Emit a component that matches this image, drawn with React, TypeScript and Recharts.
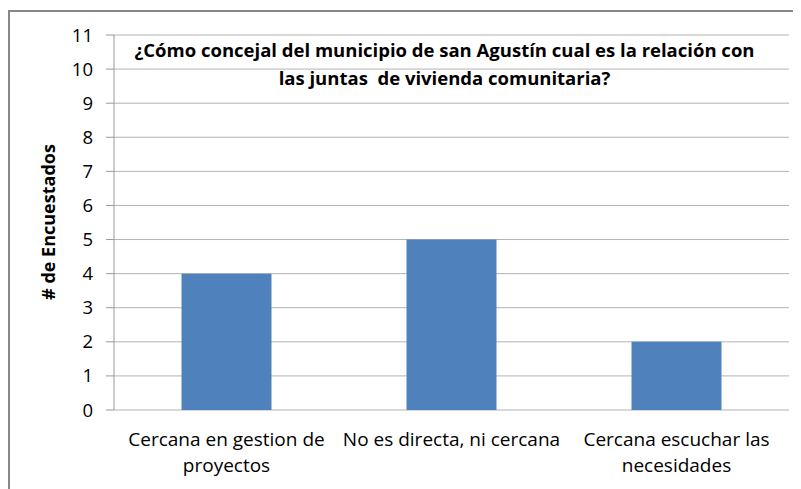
import { BarChart, Bar, XAxis, YAxis, CartesianGrid } from 'recharts'

const categorias = [
  'Cercana en gestion de proyectos',
  'No es directa, ni cercana',
  'Cercana escuchar las necesidades',
]
const encuestados = [4, 5, 2]
const yTicks = [0, 1, 2, 3, 4, 5, 6, 7, 8, 9, 10, 11]
const bordes = [0, 1, 2, 3]

const titulo1 = '¿Cómo concejal del municipio de san Agustín cual es la relación con'
const titulo2 = 'las juntas  de vivienda comunitaria?'

const data = categorias.map((c, i) => ({ name: c, valor: encuestados[i] }))

const FONT = '"Open Sans", "Noto Sans", sans-serif'

// simple word wrap, like Excel does for long category names
function wrap(text: string, max: number) {
  const lines: string[] = []
  let cur = ''
  for (const w of text.split(' ')) {
    const next = cur ? cur + ' ' + w : w
    if (next.length > max && cur) {
      lines.push(cur)
      cur = w
    } else {
      cur = next
    }
  }
  if (cur) lines.push(cur)
  return lines
}

function CategoryTick(props: any) {
  const { x, y, payload } = props
  const lines = wrap(String(payload.value), 25)
  return (
    <text x={x} y={y} textAnchor="middle" fontSize={19} fontFamily={FONT} fill="#000">
      {lines.map((l, i) => (
        <tspan key={i} x={x} dy={i === 0 ? 28 : 26}>
          {l}
        </tspan>
      ))}
    </text>
  )
}

export default function App() {
  return (
    <div style={{ position: 'relative', width: 793, height: 481, overflow: 'hidden', fontFamily: FONT }}>
      <div
        style={{
          position: 'absolute',
          left: 0,
          top: 2,
          width: 820,
          height: 520,
          border: '2px solid #878787',
          boxSizing: 'border-box',
        }}
      />
      <BarChart
        width={793}
        height={481}
        data={data}
        margin={{ top: 27, right: 12, left: 0, bottom: 0 }}
        barCategoryGap="30%"
        style={{ position: 'absolute', left: 0, top: 0 }}
      >
        <CartesianGrid vertical={false} stroke="#b3b3b3" />
        <XAxis
          xAxisId="bordes"
          type="number"
          domain={[0, 3]}
          ticks={bordes}
          tick={false}
          tickSize={7}
          height={0}
          stroke="#999"
        />
        <XAxis
          dataKey="name"
          axisLine={false}
          tickLine={false}
          height={79}
          interval={0}
          tick={<CategoryTick />}
        />
        <YAxis
          width={106}
          domain={[0, 11]}
          ticks={yTicks}
          interval={0}
          tickSize={8}
          tickMargin={13}
          stroke="#999"
          tick={{ fill: '#000', fontSize: 18.5, fontFamily: FONT }}
        />
        <Bar dataKey="valor" fill="#4f81bd" isAnimationActive={false} />
      </BarChart>
      <div
        style={{
          position: 'absolute',
          left: 0,
          width: 873,
          top: 28,
          textAlign: 'center',
          fontWeight: 'bold',
          fontSize: 18.5,
          lineHeight: '28px',
          color: '#000',
          whiteSpace: 'pre',
        }}
      >
        {titulo1}
        {'\n'}
        {titulo2}
      </div>
      <div
        style={{
          position: 'absolute',
          left: 40,
          top: 214,
          transform: 'translate(-50%, -50%) rotate(-90deg)',
          fontWeight: 'bold',
          fontSize: 18,
          whiteSpace: 'nowrap',
          color: '#000',
        }}
      >
        # de Encuestados
      </div>
    </div>
  )
}
